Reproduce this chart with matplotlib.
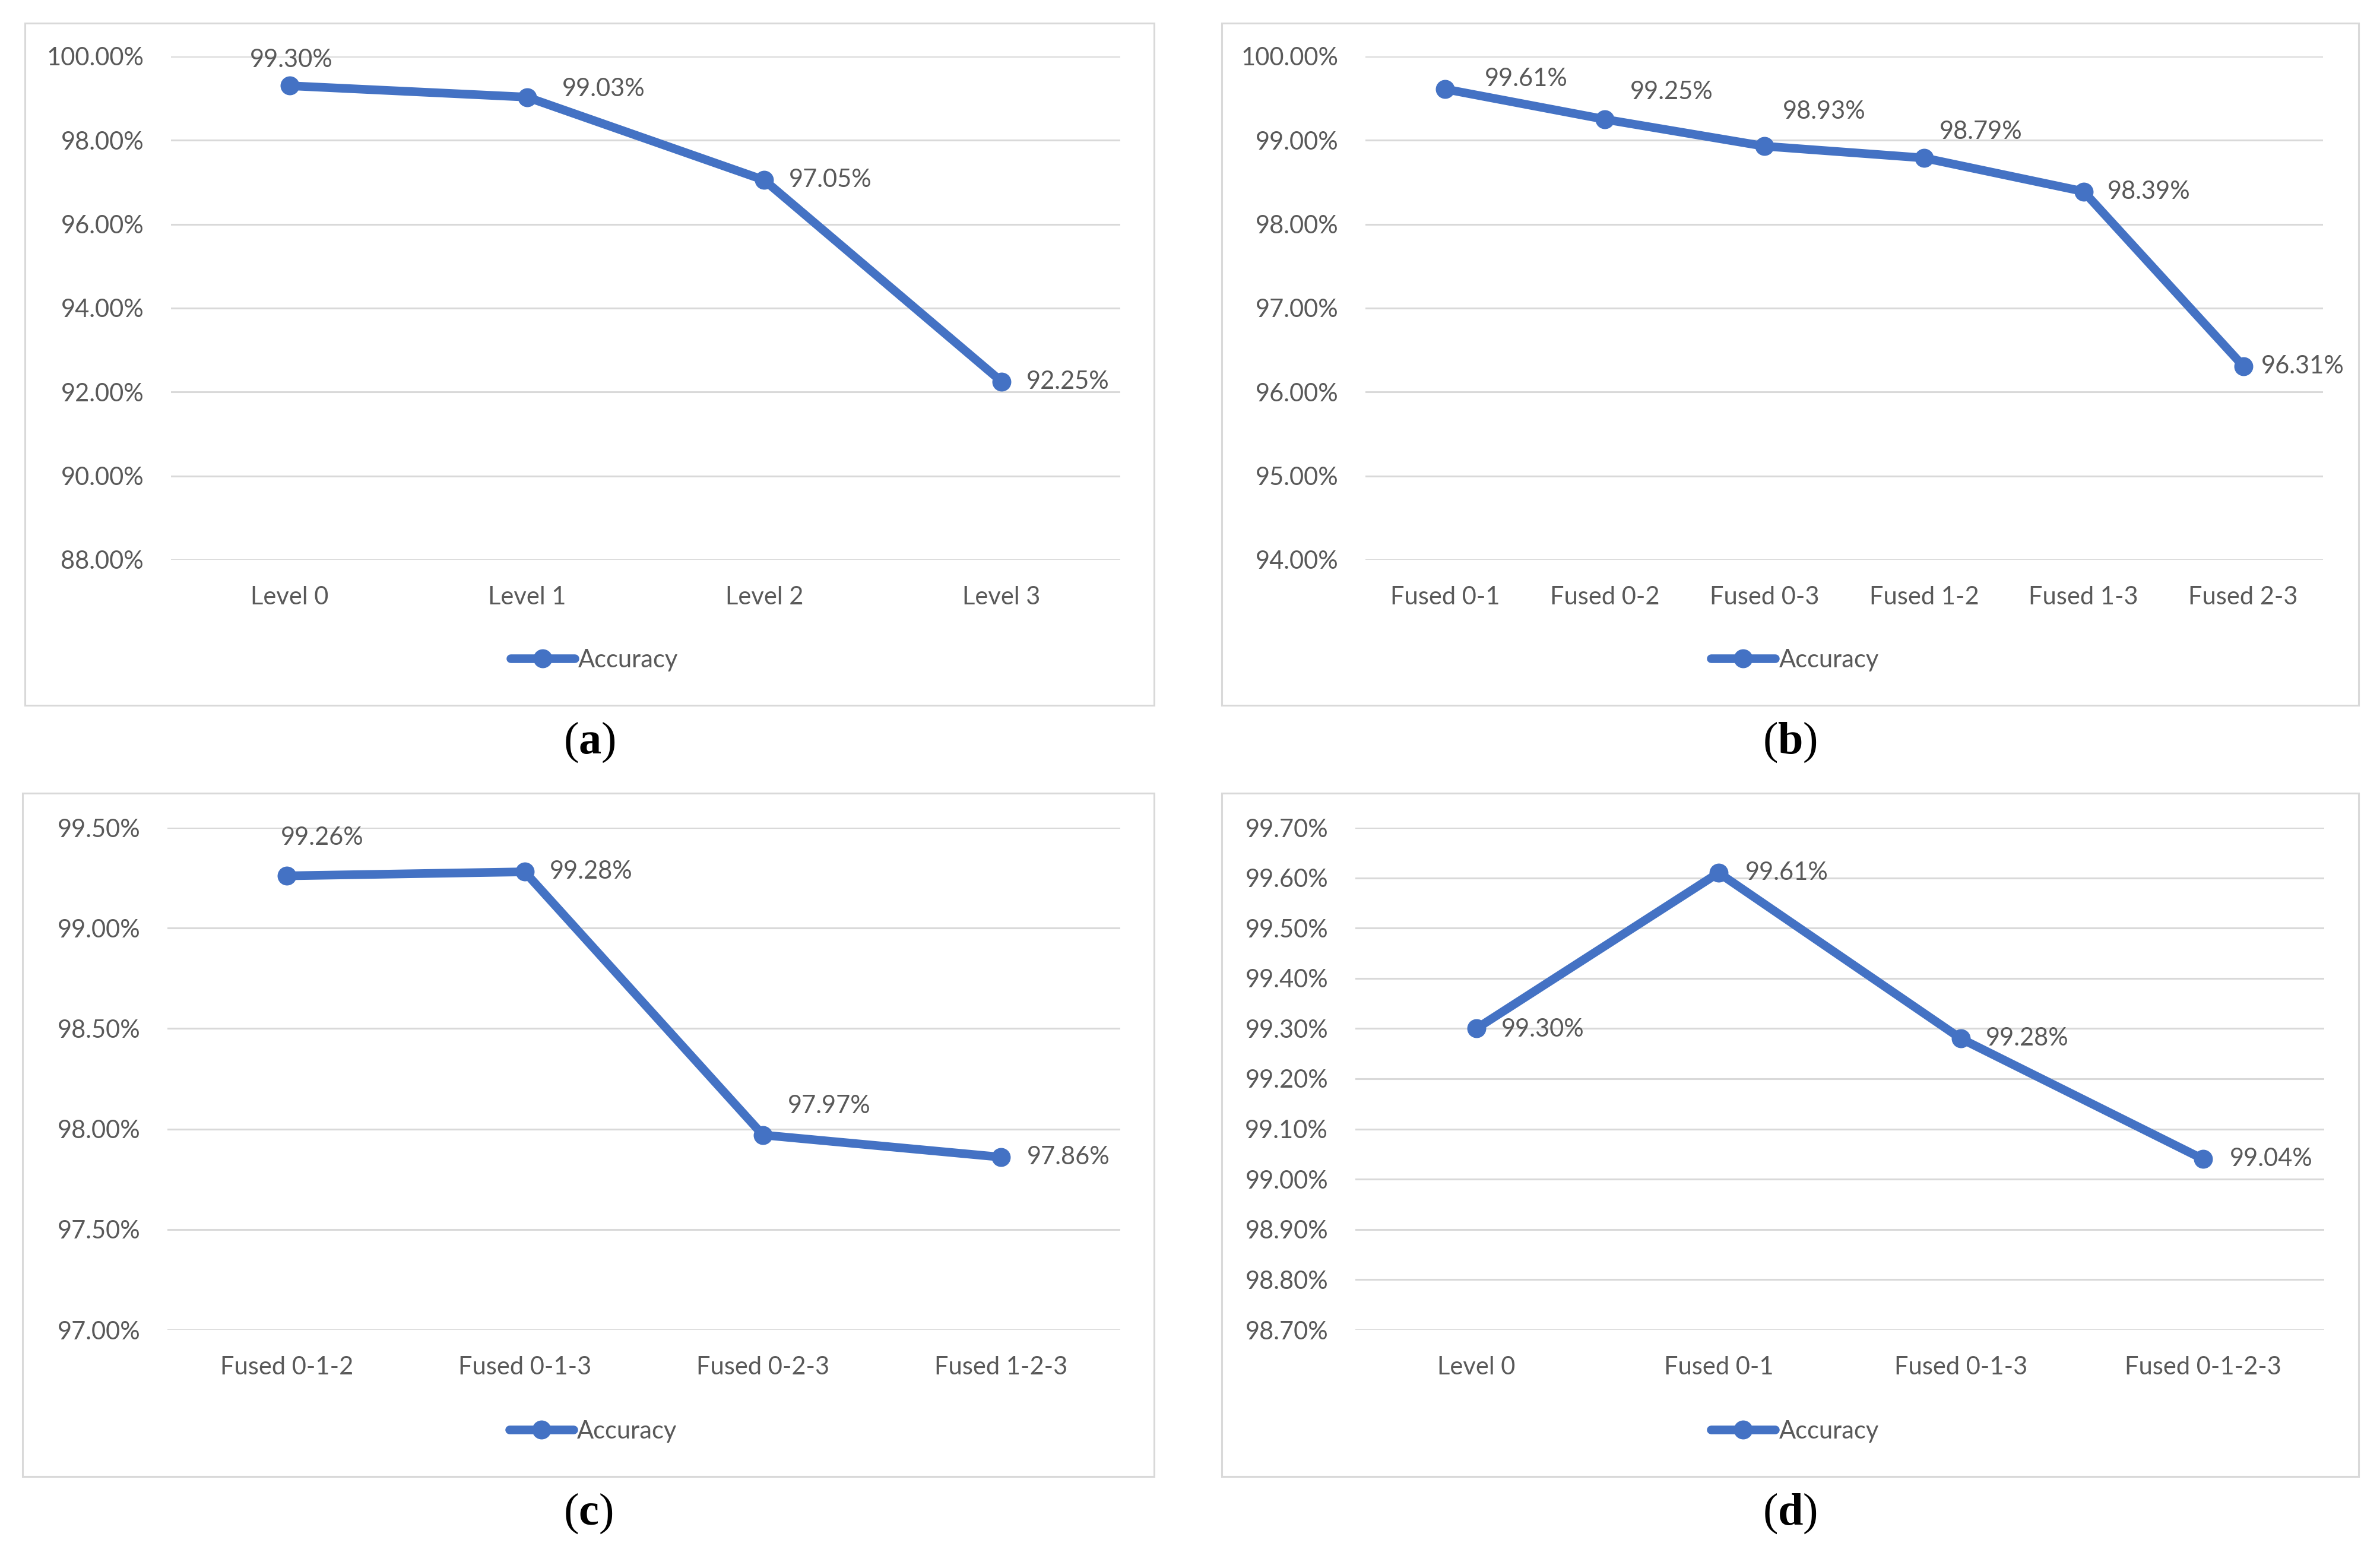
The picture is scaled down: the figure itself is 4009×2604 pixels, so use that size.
import matplotlib
matplotlib.use("Agg")
import matplotlib.pyplot as plt
from matplotlib.patches import Rectangle
from matplotlib.ticker import FixedLocator, FuncFormatter

# data
cats_a = ["Level 0", "Level 1", "Level 2", "Level 3"]
acc_a = [99.30, 99.03, 97.05, 92.25]

cats_b = ["Fused 0-1", "Fused 0-2", "Fused 0-3", "Fused 1-2", "Fused 1-3", "Fused 2-3"]
acc_b = [99.61, 99.25, 98.93, 98.79, 98.39, 96.31]

cats_c = ["Fused 0-1-2", "Fused 0-1-3", "Fused 0-2-3", "Fused 1-2-3"]
acc_c = [99.26, 99.28, 97.97, 97.86]

cats_d = ["Level 0", "Fused 0-1", "Fused 0-1-3", "Fused 0-1-2-3"]
acc_d = [99.30, 99.61, 99.28, 99.04]

ticks_a = [88, 90, 92, 94, 96, 98, 100]
ticks_b = [94, 95, 96, 97, 98, 99, 100]
ticks_c = [97.0, 97.5, 98.0, 98.5, 99.0, 99.5]
ticks_d = [98.7, 98.8, 98.9, 99.0, 99.1, 99.2, 99.3, 99.4, 99.5, 99.6, 99.7]

# label offsets (points) for the data labels, as they were dragged in Excel
offs_a = [(-48, 31), (43, 10), (30, 0), (30, 0)]
offs_b = [(48, 12), (31, 33), (22, 42), (19, 32), (29, 0), (22, 0)]
offs_c = [(-7, 46), (30, 0), (30, 35), (31, 0)]
offs_d = [(30, -1), (32, 0), (30, 0), (32, 0)]

W, H = 4009, 2604
BLUE = "#4472C4"
GREY = "#595959"
GRID = "#D9D9D9"
FS = 30

plt.rcParams["font.family"] = ["Lato", "DejaVu Sans"]
plt.rcParams["mathtext.fontset"] = "custom"
plt.rcParams["mathtext.bf"] = "Liberation Serif:bold"
plt.rcParams["mathtext.rm"] = "Liberation Serif"

fig = plt.figure(figsize=(W / 100, H / 100), dpi=100)


def px_box(x0, y0, x1, y1):
    """pixel box (top-left origin) -> figure fraction [l, b, w, h]"""
    return [x0 / W, 1 - y1 / H, (x1 - x0) / W, (y1 - y0) / H]


def panel(frame, axbox, cats, vals, ticks, offs, tag):
    # chart frame
    fx0, fy0, fx1, fy1 = frame
    l, b, w, h = px_box(fx0, fy0, fx1, fy1)
    fig.patches.append(Rectangle((l, b), w, h, transform=fig.transFigure,
                                 fill=False, edgecolor=GRID, lw=2.2))

    ax = fig.add_axes(px_box(*axbox))
    x = list(range(len(cats)))
    ax.plot(x, vals, color=BLUE, lw=10.5, marker="o", ms=22,
            solid_joinstyle="round", solid_capstyle="round",
            label="Accuracy", zorder=3, clip_on=False)

    for xi, v, (dx, dy) in zip(x, vals, offs):
        ax.annotate(f"{v:.2f}%", (xi, v), xytext=(dx, dy),
                    textcoords="offset points", ha="left", va="center",
                    fontsize=FS, color=GREY)

    ax.set_xlim(-0.5, len(cats) - 0.5)
    ax.set_ylim(ticks[0], ticks[-1])
    ax.yaxis.set_major_locator(FixedLocator(ticks))
    ax.yaxis.set_major_formatter(FuncFormatter(lambda v, p: f"{v:.2f}%"))
    ax.set_xticks(x)
    ax.set_xticklabels(cats)
    ax.tick_params(axis="both", length=0, labelsize=FS, labelcolor=GREY)
    ax.tick_params(axis="y", pad=33)
    ax.tick_params(axis="x", pad=32)
    ax.grid(axis="y", color=GRID, lw=2.2)
    ax.set_axisbelow(True)
    for s in ax.spines.values():
        s.set_visible(False)

    cx = (fx0 + fx1) / 2 + 8
    ax.legend(loc="center", bbox_to_anchor=(cx / W, 1 - (fy1 - 76) / H),
              bbox_transform=fig.transFigure, frameon=False, fontsize=FS,
              labelcolor=GREY, handlelength=2.6, handletextpad=0.15,
              borderpad=0, borderaxespad=0, numpoints=1)

    fig.text((fx0 + fx1) / 2 / W, 1 - (fy1 + 62) / H,
             r"(" + r"$\mathbf{" + tag + r"}$" + r")",
             family="Liberation Serif", fontsize=55, color="black",
             ha="center", va="center")
    return ax


panel((42, 39, 1944, 1188), (288, 95, 1887, 943), cats_a, acc_a, ticks_a, offs_a, "a")
panel((2058, 39, 3973, 1188), (2300, 95, 3913, 943), cats_b, acc_b, ticks_b, offs_b, "b")
panel((38, 1336, 1944, 2487), (282, 1394, 1887, 2240), cats_c, acc_c, ticks_c, offs_c, "c")
panel((2058, 1336, 3973, 2487), (2283, 1394, 3915, 2240), cats_d, acc_d, ticks_d, offs_d, "d")

fig.savefig("out.png", dpi=100, facecolor="white")
